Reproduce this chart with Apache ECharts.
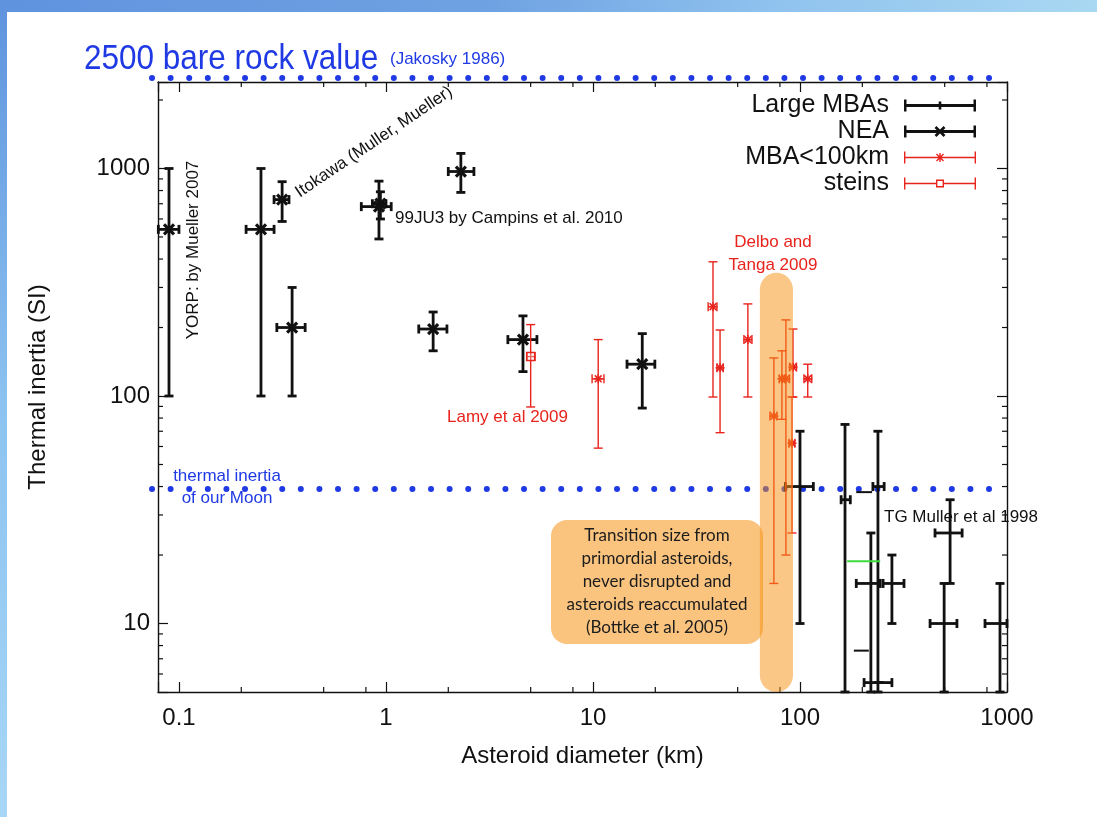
<!DOCTYPE html>
<html>
<head>
<meta charset="utf-8">
<script src="https://cdn.jsdelivr.net/npm/echarts@6/dist/echarts.min.js"></script>
<style>
  html, body { margin: 0; padding: 0; background: #ffffff; }
  #chart { width: 1097px; height: 817px; }
</style>
</head>
<body>
<div id="chart"></div>
<script>
// Axis ranges (log scales)
const X_MIN = 0.0792, X_MAX = 1000;
const Y_MIN = 5, Y_MAX = 2400;

// Major tick values and their labels
const xMajorTicks = [0.1, 1, 10, 100, 1000];
const xTickLabels = ['0.1', '1', '10', '100', '1000'];
const yMajorTicks = [10, 100, 1000];
const yTickLabels = ['10', '100', '1000'];

// Minor tick values
const xMinorTicks = [0.2, 0.5, 0.8, 2, 5, 8, 20, 50, 80, 200, 500, 800];
const yMinorTicks = [6, 7, 8, 9, 20, 30, 40, 50, 60, 70, 80, 90,
                     200, 300, 400, 500, 600, 700, 800, 900, 2000];

// Each row: [diameter km, thermal inertia, dLow, dHigh, tiLow, tiHigh]
const largeMBAs = [
  [100, 40, 85, 116, 10, 70],
  [165, 35, 158, 175, 5, 75],
  [238, 40, 225, 255, 5, 70],
  [220, 15, 187, 244, 5, 25],
  [278, 15, 252, 318, 10, 20],
  [240, 5.5, 204, 278, 5.5, 5.5],
  [531, 25, 449, 607, 15, 35],
  [497, 10, 425, 573, 5, 15],
  [925, 10, 783, 1000, 5, 15]
];

const nea = [
  [0.0895, 540, 0.0795, 0.1, 100, 1000],
  [0.249, 540, 0.211, 0.288, 100, 1000],
  [0.315, 730, 0.288, 0.34, 585, 875],
  [0.352, 200, 0.297, 0.407, 100, 300],
  [0.925, 680, 0.76, 1.06, 490, 880],
  [0.94, 700, 0.86, 1.0, 600, 790],
  [1.69, 197, 1.44, 1.97, 158, 234],
  [2.3, 970, 2.0, 2.66, 785, 1165],
  [4.59, 177, 3.88, 5.36, 128, 225],
  [17.3, 138, 14.6, 19.9, 88.5, 188]
];

const mbaSmall = [
  [10.6, 119, 9.9, 11.3, 59, 177],
  [38, 247, 36, 39.7, 99, 389],
  [41.1, 133, 39.7, 42.6, 69, 195],
  [56, 177, 53.6, 58.6, 99, 254],
  [74.8, 81.6, 71.6, 77.4, 15, 147],
  [81.8, 119, 79.5, 84.5, 79, 158],
  [85.5, 119, 82, 89, 20, 216],
  [92.5, 134, 89, 96.2, 99, 197],
  [91.5, 62, 88.5, 94.5, 25, 99],
  [109, 119, 104.5, 114, 99, 138]
];

const steins = [
  [5.0, 149, 4.8, 5.25, 89.5, 206]
];

// Loose horizontal segments: [dStart, dEnd, inertia, colour]
const extraSegments = [
  [187, 223, 37.8, '#111111'],
  [169, 244, 18.8, '#3ddc3d'],
  [182, 215, 7.6, '#111111']
];

// Reference levels: bare rock and lunar regolith
const bareRockTI = 2500;
const moonTI = 39;
const refLineSpan = [0.0741, 830];

// Transition size band (km) and its top
const transitionBand = [64, 92.5];
const bandTop = 348;

const BLACK = '#111111';
const RED = '#e8231c';
const BLUE = '#1f3ae4';
const FONT = '"Liberation Sans", Arial, Helvetica, sans-serif';

function seg(x1, y1, x2, y2, style) {
  return { type: 'line', shape: { x1: x1, y1: y1, x2: x2, y2: y2 }, style: style };
}

function xMarker(c, k) {
  const s = 5, st = { stroke: k.color, lineWidth: 3.2 };
  return [seg(c[0] - s, c[1] - s, c[0] + s, c[1] + s, st),
          seg(c[0] - s, c[1] + s, c[0] + s, c[1] - s, st)];
}
function starMarker(c, k) {
  const s = 4.5, d = 3.4, st = { stroke: k.color, lineWidth: 1.6 };
  return [seg(c[0] - s, c[1], c[0] + s, c[1], st),
          seg(c[0], c[1] - s, c[0], c[1] + s, st),
          seg(c[0] - d, c[1] - d, c[0] + d, c[1] + d, st),
          seg(c[0] - d, c[1] + d, c[0] + d, c[1] - d, st)];
}
function squareMarker(c, k) {
  return [{ type: 'rect', shape: { x: c[0] - 4, y: c[1] - 4, width: 8, height: 8 },
            style: { stroke: k.color, lineWidth: 1.5, fill: 'rgba(255,255,255,0.3)' } }];
}

function errorBars(kind, marker) {
  return function (params, api) {
    const x = api.value(0), y = api.value(1);
    const c = api.coord([x, y]);
    const xl = api.coord([api.value(2), y])[0];
    const xr = api.coord([api.value(3), y])[0];
    const yb = api.coord([x, api.value(4)])[1];
    const yt = api.coord([x, api.value(5)])[1];
    const st = { stroke: kind.color, lineWidth: kind.lw };
    const h = kind.cap / 2;
    const kids = [
      seg(c[0], yt, c[0], yb, st),
      seg(c[0] - h, yt, c[0] + h, yt, st),
      seg(c[0] - h, yb, c[0] + h, yb, st),
      seg(xl, c[1], xr, c[1], st),
      seg(xl, c[1] - h, xl, c[1] + h, st),
      seg(xr, c[1] - h, xr, c[1] + h, st)
    ];
    if (marker) kids.push.apply(kids, marker(c, kind));
    return { type: 'group', children: kids };
  };
}

const blackKind = { color: BLACK, lw: 2.8, cap: 9 };
const redKind = { color: RED, lw: 1.4, cap: 9 };

function tickLabel(ticks, labels) {
  return function (v) {
    for (let i = 0; i < ticks.length; i++) {
      if (Math.abs(Math.log10(v) - Math.log10(ticks[i])) < 1e-6) return labels[i];
    }
    return '';
  };
}

// Legend glyphs: error bar with the series' point symbol
const iconLarge = 'path://M0,0H2.5V4.6H69.5V0H72V12H69.5V7.4H2.5V12H0Z M34.7,2H37.3V10H34.7Z';
const iconNEA = 'path://M0,0H2.5V4.6H69.5V0H72V12H69.5V7.4H2.5V12H0Z' +
  ' M32.42,0.58L41.42,9.58L39.58,11.42L30.58,2.42Z' +
  ' M30.58,9.58L39.58,0.58L41.42,2.42L32.42,11.42Z';
const iconMBA = 'path://M0,0H1.4V5.3H70.6V0H72V12H70.6V6.7H1.4V12H0Z' +
  ' M35.3,1.5H36.7V10.5H35.3Z' +
  ' M32.995,2.005L39.995,9.005L39.005,9.995L32.005,2.995Z' +
  ' M32.005,9.005L39.005,2.005L39.995,2.995L32.995,9.995Z';
const iconSteins = 'path://M0,0H1.4V5.3H32V6.7H1.4V12H0Z' +
  ' M72,0V12H70.6V6.7H40V5.3H70.6V0Z' +
  ' M32,2H40V10H32Z M33.4,3.4V8.6H38.6V3.4Z';

const axisLineStyle = { color: BLACK, width: 1.4 };

const chart = echarts.init(document.getElementById('chart'), null, { renderer: 'canvas' });

chart.setOption({
  backgroundColor: '#ffffff',
  animation: false,
  grid: { left: 158, right: 90, top: 82, bottom: 125, containLabel: false },
  xAxis: [
    {
      type: 'log', min: X_MIN, max: X_MAX, position: 'bottom',
      axisLine: { lineStyle: axisLineStyle },
      axisTick: { inside: true, length: 10, lineStyle: { color: BLACK, width: 1.2 } },
      axisLabel: { formatter: tickLabel(xMajorTicks, xTickLabels), fontSize: 24, color: BLACK,
                   fontFamily: FONT, margin: 14 },
      splitLine: { show: false },
      name: 'Asteroid diameter (km)', nameLocation: 'middle', nameGap: 52,
      nameTextStyle: { fontSize: 24, color: BLACK, fontFamily: FONT }
    },
    {
      type: 'log', min: X_MIN, max: X_MAX, position: 'top',
      axisLine: { lineStyle: axisLineStyle },
      axisTick: { inside: true, length: 10, lineStyle: { color: BLACK, width: 1.2 } },
      axisLabel: { show: false }, splitLine: { show: false }
    }
  ],
  yAxis: [
    {
      type: 'log', min: Y_MIN, max: Y_MAX, position: 'left',
      axisLine: { lineStyle: axisLineStyle },
      axisTick: { inside: true, length: 10, lineStyle: { color: BLACK, width: 1.2 } },
      axisLabel: { formatter: tickLabel(yMajorTicks, yTickLabels), fontSize: 24, color: BLACK,
                   fontFamily: FONT, margin: 8 },
      splitLine: { show: false },
      name: 'Thermal inertia (SI)', nameLocation: 'middle', nameGap: 108,
      nameTextStyle: { fontSize: 24, color: BLACK, fontFamily: FONT }
    },
    {
      type: 'log', min: Y_MIN, max: Y_MAX, position: 'right',
      axisLine: { lineStyle: axisLineStyle },
      axisTick: { inside: true, length: 10, lineStyle: { color: BLACK, width: 1.2 } },
      axisLabel: { show: false }, splitLine: { show: false }
    }
  ],
  legend: {
    orient: 'vertical', right: 116, top: 88, align: 'right',
    itemWidth: 72, itemHeight: 12, itemGap: 1,
    textStyle: { fontSize: 25, color: BLACK, fontFamily: FONT, padding: [0, 10, 0, 0] },
    data: [
      { name: 'Large MBAs', icon: iconLarge },
      { name: 'NEA', icon: iconNEA },
      { name: 'MBA<100km', icon: iconMBA },
      { name: 'steins', icon: iconSteins }
    ]
  },
  graphic: [
    // slide frame
    { type: 'rect', shape: { x: 0, y: 0, width: 1097, height: 12 }, z: -5,
      style: { fill: new echarts.graphic.LinearGradient(0, 0, 1, 0, [
        { offset: 0, color: '#5f93de' }, { offset: 0.45, color: '#6fa2e2' },
        { offset: 0.7, color: '#8fc2ee' }, { offset: 1, color: '#a9d8f2' }]) } },
    { type: 'rect', shape: { x: 0, y: 0, width: 7, height: 817 }, z: -5,
      style: { fill: new echarts.graphic.LinearGradient(0, 0, 0, 1, [
        { offset: 0, color: '#5f93de' }, { offset: 0.5, color: '#8cc3f0' },
        { offset: 1, color: '#a8d6f6' }]) } },
    // reference level captions
    { type: 'text', x: 84, y: 59, scaleX: 0.9,
      style: { text: '2500 bare rock value', font: '35px ' + FONT,
               fill: BLUE, align: 'left', verticalAlign: 'middle' } },
    { type: 'text', x: 390, y: 59, style: { text: '(Jakosky 1986)', font: '17px ' + FONT,
      fill: BLUE, align: 'left', verticalAlign: 'middle' } },
    { type: 'text', x: 227, y: 476, style: { text: 'thermal inertia', font: '17px ' + FONT,
      fill: BLUE, align: 'center', verticalAlign: 'middle' } },
    { type: 'text', x: 227, y: 498, style: { text: 'of our Moon', font: '17px ' + FONT,
      fill: BLUE, align: 'center', verticalAlign: 'middle' } },
    // source notes
    { type: 'text', x: 193, y: 250, rotation: Math.PI / 2,
      style: { text: 'YORP: by Mueller 2007', font: '17px ' + FONT, fill: BLACK,
               align: 'center', verticalAlign: 'middle' } },
    { type: 'text', x: 374, y: 142, rotation: 34 * Math.PI / 180,
      style: { text: 'Itokawa (Muller, Mueller)', font: '17px ' + FONT, fill: BLACK,
               align: 'center', verticalAlign: 'middle' } },
    { type: 'text', x: 395, y: 218, style: { text: '99JU3 by Campins et al. 2010', font: '17px ' + FONT,
      fill: BLACK, align: 'left', verticalAlign: 'middle' } },
    { type: 'text', x: 773, y: 242, style: { text: 'Delbo and', font: '17px ' + FONT,
      fill: RED, align: 'center', verticalAlign: 'middle' } },
    { type: 'text', x: 773, y: 265, style: { text: 'Tanga 2009', font: '17px ' + FONT,
      fill: RED, align: 'center', verticalAlign: 'middle' } },
    { type: 'text', x: 447, y: 417, style: { text: 'Lamy et al 2009', font: '17px ' + FONT,
      fill: RED, align: 'left', verticalAlign: 'middle' } },
    { type: 'text', x: 884, y: 517, z: 10, style: { text: 'TG Muller et al 1998', font: '17px ' + FONT,
      fill: BLACK, align: 'left', verticalAlign: 'middle' } },
    // transition-size note
    { type: 'rect', shape: { x: 551, y: 520, width: 212, height: 124, r: 16 },
      style: { fill: '#fac47f' } },
    { type: 'text', x: 657, y: 582,
      style: { text: 'Transition size from\nprimordial asteroids,\nnever disrupted and\nasteroids reaccumulated\n(Bottke et al. 2005)',
               font: '17px Lato, "Open Sans", sans-serif', lineHeight: 23, fill: '#1c1c1c',
               align: 'center', verticalAlign: 'middle' } }
  ],
  series: [
    {
      name: 'refLevels', type: 'custom', z: 1, clip: false, silent: true,
      data: [[bareRockTI], [moonTI]],
      renderItem: function (params, api) {
        const y = api.value(0);
        const a = api.coord([refLineSpan[0], y]);
        const b = api.coord([refLineSpan[1], y]);
        return seg(a[0], a[1], b[0], b[1], {
          stroke: BLUE, lineWidth: 6, lineCap: 'round', lineDash: [0, 18.6]
        });
      }
    },
    {
      name: 'minorX', type: 'custom', z: 1, silent: true,
      data: xMinorTicks.map(function (v) { return [v]; }),
      renderItem: function (params, api) {
        const b = api.coord([api.value(0), Y_MIN]);
        const t = api.coord([api.value(0), Y_MAX]);
        const st = { stroke: BLACK, lineWidth: 1.2 };
        return { type: 'group', children: [
          seg(b[0], b[1], b[0], b[1] - 5, st), seg(t[0], t[1], t[0], t[1] + 5, st)] };
      }
    },
    {
      name: 'minorY', type: 'custom', z: 1, silent: true,
      data: yMinorTicks.map(function (v) { return [v]; }),
      renderItem: function (params, api) {
        const l = api.coord([X_MIN, api.value(0)]);
        const r = api.coord([X_MAX, api.value(0)]);
        const st = { stroke: BLACK, lineWidth: 1.2 };
        return { type: 'group', children: [
          seg(l[0], l[1], l[0] + 5, l[1], st), seg(r[0], r[1], r[0] - 5, r[1], st)] };
      }
    },
    {
      name: 'Large MBAs', type: 'custom', z: 3, itemStyle: { color: BLACK },
      encode: { x: 0, y: 1 }, data: largeMBAs, renderItem: errorBars(blackKind, null)
    },
    {
      name: 'NEA', type: 'custom', z: 3, itemStyle: { color: BLACK },
      encode: { x: 0, y: 1 }, data: nea, renderItem: errorBars(blackKind, xMarker)
    },
    {
      name: 'MBA<100km', type: 'custom', z: 3, itemStyle: { color: RED },
      encode: { x: 0, y: 1 }, data: mbaSmall, renderItem: errorBars(redKind, starMarker)
    },
    {
      name: 'steins', type: 'custom', z: 3, itemStyle: { color: RED },
      encode: { x: 0, y: 1 }, data: steins, renderItem: errorBars(redKind, squareMarker)
    },
    {
      name: 'segments', type: 'custom', z: 3, silent: true,
      data: extraSegments,
      renderItem: function (params, api) {
        const row = extraSegments[params.dataIndex];
        const a = api.coord([row[0], row[2]]);
        const b = api.coord([row[1], row[2]]);
        return seg(a[0], a[1], b[0], b[1], { stroke: row[3], lineWidth: 2 });
      }
    },
    {
      name: 'transitionBand', type: 'custom', z: 5, silent: true,
      data: [[transitionBand[0], transitionBand[1], bandTop]],
      renderItem: function (params, api) {
        const a = api.coord([api.value(0), api.value(2)]);
        const b = api.coord([api.value(1), Y_MIN]);
        const w = b[0] - a[0];
        return { type: 'rect', shape: { x: a[0], y: a[1], width: w, height: b[1] - a[1], r: w / 2 },
                 style: { fill: 'rgba(247,145,20,0.51)' } };
      }
    }
  ]
});
</script>
</body>
</html>
